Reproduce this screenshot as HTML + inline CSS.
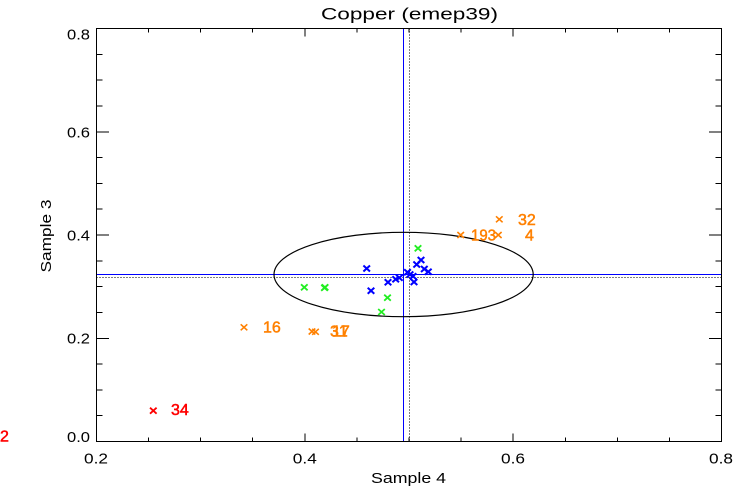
<!DOCTYPE html>
<html><head><meta charset="utf-8"><style>
html,body{margin:0;padding:0;background:#fff;}
svg{display:block;}
text{font-family:"Liberation Sans",sans-serif;}
</style></head><body>
<svg width="750" height="500" viewBox="0 0 750 500" xmlns="http://www.w3.org/2000/svg">
<rect width="750" height="500" fill="#fff"/>
<!-- title -->
<text x="321" y="19.5" font-size="16.5" textLength="177" lengthAdjust="spacingAndGlyphs" fill="#000">Copper (emep39)</text>

<!-- reference lines -->
<line x1="96.5" y1="274.5" x2="721.5" y2="274.5" stroke="#0000ff" stroke-width="1" shape-rendering="crispEdges"/>
<line x1="96.5" y1="277.5" x2="721.5" y2="277.5" stroke="#000" stroke-width="1" stroke-dasharray="1 2" shape-rendering="crispEdges"/>
<line x1="403.5" y1="28.5" x2="403.5" y2="441.5" stroke="#0000ff" stroke-width="1" shape-rendering="crispEdges"/>
<line x1="409.5" y1="28.5" x2="409.5" y2="441.5" stroke="#000" stroke-width="1" stroke-dasharray="1 2" shape-rendering="crispEdges"/>

<!-- ellipse -->
<ellipse cx="403.6" cy="274.5" rx="129.6" ry="42.2" fill="none" stroke="#000" stroke-width="1.2"/>

<!-- axes box -->
<g stroke="#000" stroke-width="1" shape-rendering="crispEdges" fill="none">
<rect x="96.5" y="28.5" width="625" height="413"/>
<path d="M304.8 441.5v-8M513.2 441.5v-8M304.8 28.5v8M513.2 28.5v8"/>
<path d="M148.6 441.5v-4M200.7 441.5v-4M252.7 441.5v-4M356.9 441.5v-4M409 441.5v-4M461.1 441.5v-4M565.3 441.5v-4M617.4 441.5v-4M669.4 441.5v-4
M148.6 28.5v4M200.7 28.5v4M252.7 28.5v4M356.9 28.5v4M409 28.5v4M461.1 28.5v4M565.3 28.5v4M617.4 28.5v4M669.4 28.5v4"/>
<path d="M96.5 131.75h12.5M96.5 235h12.5M96.5 338.25h12.5M721.5 131.75h-12.5M721.5 235h-12.5M721.5 338.25h-12.5"/>
<path d="M96.5 54.3h6M96.5 80.1h6M96.5 105.9h6M96.5 157.6h6M96.5 183.4h6M96.5 209.2h6M96.5 260.8h6M96.5 286.6h6M96.5 312.4h6M96.5 364.1h6M96.5 389.9h6M96.5 415.7h6
M721.5 54.3h-6M721.5 80.1h-6M721.5 105.9h-6M721.5 157.6h-6M721.5 183.4h-6M721.5 209.2h-6M721.5 260.8h-6M721.5 286.6h-6M721.5 312.4h-6M721.5 364.1h-6M721.5 389.9h-6M721.5 415.7h-6"/>
</g>

<!-- y tick labels -->
<g font-size="15" fill="#000" text-anchor="end">
<text x="90" y="39.5" textLength="23" lengthAdjust="spacingAndGlyphs">0.8</text>
<text x="90" y="137.5" textLength="23" lengthAdjust="spacingAndGlyphs">0.6</text>
<text x="90" y="240.5" textLength="23" lengthAdjust="spacingAndGlyphs">0.4</text>
<text x="90" y="343.5" textLength="23" lengthAdjust="spacingAndGlyphs">0.2</text>
<text x="90" y="442" textLength="23" lengthAdjust="spacingAndGlyphs">0.0</text>
</g>
<!-- x tick labels -->
<g font-size="15" fill="#000" text-anchor="middle">
<text x="96" y="463.5" textLength="24" lengthAdjust="spacingAndGlyphs">0.2</text>
<text x="304.8" y="463.5" textLength="24" lengthAdjust="spacingAndGlyphs">0.4</text>
<text x="513" y="463.5" textLength="24" lengthAdjust="spacingAndGlyphs">0.6</text>
<text x="721" y="463.5" textLength="24" lengthAdjust="spacingAndGlyphs">0.8</text>
</g>
<!-- axis titles -->
<text x="408.5" y="483" font-size="15" text-anchor="middle" textLength="75" lengthAdjust="spacingAndGlyphs" fill="#000">Sample 4</text>
<text transform="translate(51,236) rotate(-90)" x="0" y="0" font-size="15" text-anchor="middle" textLength="73" lengthAdjust="spacingAndGlyphs" fill="#000">Sample 3</text>

<defs>
<path id="mk" d="M-3.3 -3 L3.3 3 M-3.3 3 L3.3 -3"/>
</defs>
<!-- green -->
<g stroke="#22ee22" stroke-width="1.8" fill="none">
<use href="#mk" x="304.3" y="287.3"/>
<use href="#mk" x="325" y="287.3"/>
<use href="#mk" x="324.5" y="287.8"/>
<use href="#mk" x="387.5" y="297.7"/>
<use href="#mk" x="381.5" y="312"/>
<use href="#mk" x="418" y="248.3"/>
</g>
<!-- blue -->
<g stroke="#0000ff" stroke-width="2" fill="none">
<use href="#mk" x="366.7" y="268.5"/>
<use href="#mk" x="371" y="290.7"/>
<use href="#mk" x="388" y="282.2"/>
<use href="#mk" x="395.7" y="279.2"/>
<use href="#mk" x="399.3" y="277.7"/>
<use href="#mk" x="407.5" y="272.2"/>
<use href="#mk" x="410" y="274.5"/>
<use href="#mk" x="413" y="276.2"/>
<use href="#mk" x="414" y="282"/>
<use href="#mk" x="416.7" y="264.5"/>
<use href="#mk" x="421" y="260"/>
<use href="#mk" x="424.3" y="269"/>
<use href="#mk" x="428.3" y="271.7"/>
</g>
<!-- orange -->
<g stroke="#ff8000" stroke-width="1.6" fill="none">
<use href="#mk" x="499.3" y="219.3"/>
<use href="#mk" x="460.7" y="235"/>
<use href="#mk" x="498.3" y="235"/>
<use href="#mk" x="244" y="327.3"/>
<use href="#mk" x="312" y="331.5"/>
<use href="#mk" x="315.5" y="331.8"/>
</g>
<g fill="#ff8000" stroke="#ff8000" stroke-width="0.5" font-size="16">
<text x="518" y="225">32</text>
<text x="471" y="240.5" textLength="25" lengthAdjust="spacingAndGlyphs">193</text>
<text x="525" y="240.5">4</text>
<text x="263" y="332.5">16</text>
<text x="330" y="336.5">31</text>
<text x="332" y="336.5">17</text>
</g>
<!-- red -->
<g stroke="#ff0000" stroke-width="1.8" fill="none">
<use href="#mk" x="153.3" y="410.7"/>
</g>
<g fill="#ff0000" stroke="#ff0000" stroke-width="0.5" font-size="16">
<text x="171" y="415">34</text>
<text x="0" y="441.5">2</text>
</g>
</svg>
</body></html>
